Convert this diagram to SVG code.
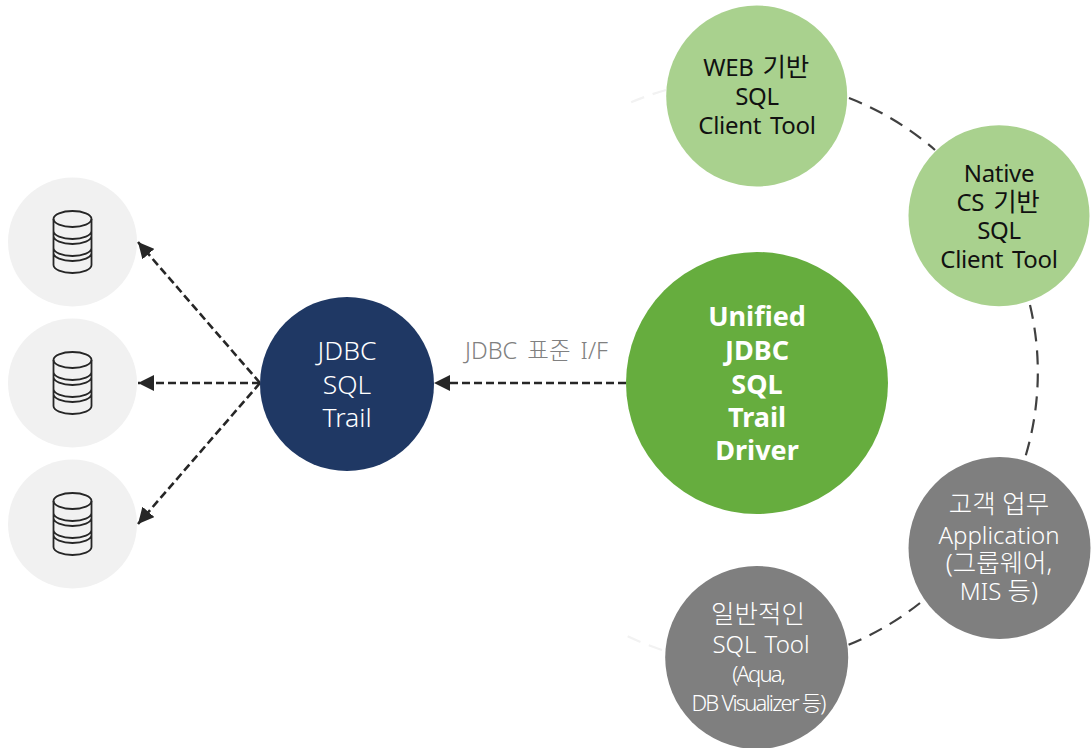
<svg xmlns="http://www.w3.org/2000/svg" width="1092" height="748" viewBox="0 0 1092 748">
<style>
text{font-family:"Noto Sans","Noto Sans CJK KR",sans-serif;font-size:24px;text-anchor:middle}
.k{fill:#111;word-spacing:3px;letter-spacing:-.3px}.w{fill:#fff;font-weight:300}.db{fill:#f1f1f1}.lg{fill:#a9d18e}.gr{fill:#7f7f7f}
.t{font-size:26.5px}.b{font-size:27px;font-weight:700;fill:#fff}.ko{font-size:25.5px}
.c{font-size:22px;letter-spacing:-1.8px}
.ln{fill:none;stroke:#262626;stroke-width:2.6;stroke-dasharray:8 4}
.arc{fill:none;stroke:#404040;stroke-width:2.2;stroke-dasharray:14 9}
.fa{fill:none;stroke:#f2f2f2;stroke-width:2.2;stroke-dasharray:14 9}
.ic{fill:none;stroke:#262626;stroke-width:1.8}
</style>
<defs>
<marker id="ah" markerUnits="userSpaceOnUse" markerWidth="17" markerHeight="16" refX="16" refY="8" orient="auto"><path d="M0 0L16 8L0 16Z" fill="#262626"/></marker>
<g id="dbi"><path class="ic" d="M-19 -23V23A19 8 0 0 0 19 23V-23M-19 -11A19 8 0 0 0 19 -11M-19 -6A19 8 0 0 0 19 -6M-19 6A19 8 0 0 0 19 6M-19 11A19 8 0 0 0 19 11"/><ellipse class="ic" cx="0" cy="-23" rx="19" ry="8"/></g>
</defs>
<g id="connectors">
<path class="arc" d="M849 98A293 293 0 0 1 935 150"/>
<path class="arc" d="M1030 305A293 293 0 0 1 1025 458"/>
<path class="arc" d="M920 603A293 293 0 0 1 848 645"/>
<path class="fa" d="M666 90A293 293 0 0 0 625 105"/>
<path class="fa" d="M662 650A293 293 0 0 1 625 635"/>
<path class="ln" d="M626 383H434" marker-end="url(#ah)"/>
<path class="ln" d="M260 383L138 242" marker-end="url(#ah)"/>
<path class="ln" d="M260 383H138" marker-end="url(#ah)"/>
<path class="ln" d="M260 383L138 524" marker-end="url(#ah)"/>
</g>
<g id="db1"><circle class="db" cx="72.5" cy="242" r="64.5"/><use href="#dbi" x="72.5" y="242"/></g>
<g id="db2"><circle class="db" cx="72.5" cy="383" r="64.5"/><use href="#dbi" x="72.5" y="383"/></g>
<g id="db3"><circle class="db" cx="72.5" cy="524" r="64.5"/><use href="#dbi" x="72.5" y="524"/></g>
<g id="trail"><circle cx="347" cy="384" r="87" fill="#1f3864"/>
<text class="w t" x="347" y="360">JDBC</text><text class="w t" x="347" y="394">SQL</text><text class="w t" x="347" y="427">Trail</text></g>
<g id="label"><text x="536.5" y="359" fill="#808080" style="font-size:23.5px;font-weight:300;word-spacing:4px">JDBC 표준 I/F</text></g>
<g id="driver"><circle cx="757" cy="383" r="131" fill="#66ad3e"/>
<text class="b" x="757" y="326">Unified</text><text class="b" x="757" y="360">JDBC</text><text class="b" x="757" y="394">SQL</text><text class="b" x="757" y="427">Trail</text><text class="b" x="757" y="460">Driver</text></g>
<g id="web"><circle class="lg" cx="756.7" cy="96" r="90.5"/>
<text class="k" x="756" y="76">WEB <tspan class="ko">기반</tspan></text><text class="k" x="757" y="105">SQL</text><text class="k" x="757" y="134">Client Tool</text></g>
<g id="native"><circle class="lg" cx="999" cy="215.7" r="90.5"/>
<text class="k" x="999" y="182">Native</text><text class="k" x="998" y="211">CS <tspan class="ko">기반</tspan></text><text class="k" x="999" y="239">SQL</text><text class="k" x="999" y="268">Client Tool</text></g>
<g id="app"><circle class="gr" cx="999.5" cy="548" r="91"/>
<text class="w ko" x="999" y="513">고객 업무</text><text class="w" x="999" y="544">Application</text><text class="w" x="999" y="572"><tspan class="ko">(그룹웨어,</tspan></text><text class="w" x="999" y="600">MIS <tspan class="ko">등)</tspan></text></g>
<g id="general"><circle class="gr" cx="756.7" cy="657.5" r="91.5"/>
<text class="w ko" x="758" y="623">일반적인</text><text class="w" x="761" y="653" style="word-spacing:2px">SQL Tool</text><text class="w c" x="758" y="682">(Aqua,</text><text class="w c" x="758" y="711">DB Visualizer 등)</text></g>
</svg>
